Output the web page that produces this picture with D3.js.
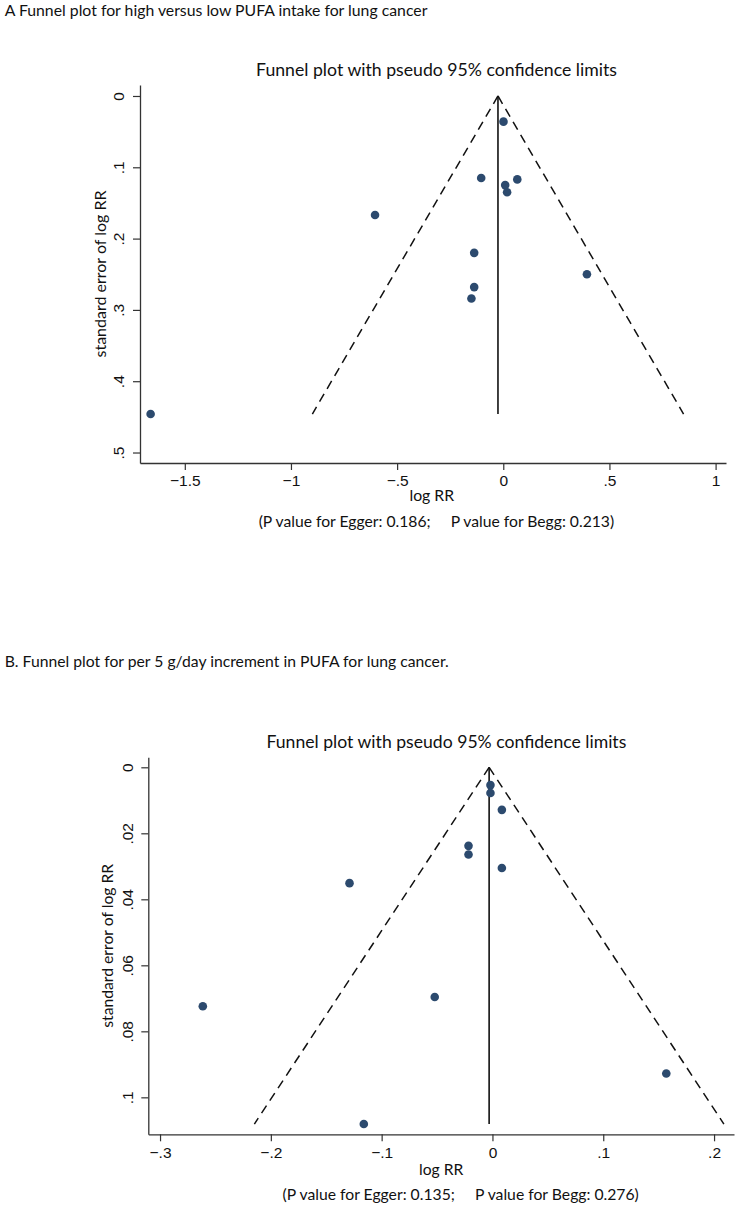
<!DOCTYPE html>
<html>
<head>
<meta charset="utf-8">
<script src="https://cdn.jsdelivr.net/npm/d3@7"></script>
<style>
  html, body { margin: 0; padding: 0; background: #fff; }
  svg { display: block; font-family: Lato, "Liberation Sans", Arial, sans-serif; }
  text { white-space: pre; }
</style>
</head>
<body>
<svg id="chart" width="737" height="1208"></svg>
<script>
// ---------- DATA ----------
const headerA = "A Funnel plot for high versus low PUFA intake for lung cancer";
const headerB = "B. Funnel plot for per 5 g/day increment in PUFA for lung cancer.";
const plotTitle = "Funnel plot with pseudo 95% confidence limits";
const xLabel = "log RR";
const yLabel = "standard error of log RR";
const noteA = "(P value for Egger: 0.186;     P value for Begg: 0.213)";
const noteB = "(P value for Egger: 0.135;     P value for Begg: 0.276)";

// Panel A: high versus low PUFA intake
const logRR_A = [0.001, -0.104, 0.066, 0.009, 0.018, -0.137, 0.394, -0.137, -0.150, -0.604, -1.661];
const se_A    = [0.036, 0.115, 0.117, 0.125, 0.135, 0.220, 0.250, 0.268, 0.284, 0.167, 0.446];
const pooled_A = -0.025;
const xTicks_A = [-1.5, -1, -0.5, 0, 0.5, 1];
const yTicks_A = [0, 0.1, 0.2, 0.3, 0.4, 0.5];

// Panel B: per 5 g/day increment
const logRR_B = [-0.0018, -0.0018, 0.0085, -0.0216, -0.0216, 0.0085, -0.129, -0.0521, -0.2614, 0.1569, -0.1161];
const se_B    = [0.0054, 0.0078, 0.0129, 0.0238, 0.0264, 0.0305, 0.0351, 0.0696, 0.0724, 0.0928, 0.1081];
const pooled_B = -0.003;
const xTicks_B = [-0.3, -0.2, -0.1, 0, 0.1, 0.2];
const yTicks_B = [0, 0.02, 0.04, 0.06, 0.08, 0.1];

// ---------- DRAW ----------
const svg = d3.select("#chart");
const dotColor = "#2c4a6e";
const textColor = "#111";

function fmt(v) {
  if (Math.abs(v) < 1e-12) return "0";
  const s = String(+Math.abs(v).toFixed(4)).replace(/^0\./, ".");
  return (v < 0 ? "\u2212" : "") + s;
}

function fitWidth(sel, target) {
  const w = sel.node().getComputedTextLength();
  const fs = parseFloat(sel.attr("font-size"));
  sel.attr("font-size", (fs * target / w).toFixed(2));
}

function panel(cfg) {
  const g = svg.append("g");
  const x = d3.scaleLinear().domain(cfg.xDomain).range(cfg.xRange);
  const y = d3.scaleLinear().domain(cfg.yDomain).range(cfg.yRange);

  // header
  const h = g.append("text").attr("x", 4.7).attr("y", cfg.headerY)
    .attr("font-size", 15).attr("fill", textColor).text(cfg.header);
  fitWidth(h, cfg.headerW);

  // plot title
  const t = g.append("text").attr("x", cfg.titleX).attr("y", cfg.titleY)
    .attr("text-anchor", "middle").attr("font-size", 17).attr("fill", textColor).text(plotTitle);
  fitWidth(t, cfg.titleW);

  // x axis
  const xa = g.append("g").attr("transform", `translate(0,${cfg.yRange[1]})`)
    .call(d3.axisBottom(x).tickValues(cfg.xTicks).tickFormat(fmt).tickSize(7).tickSizeOuter(0).tickPadding(4));
  xa.select(".domain").attr("stroke", "#333").attr("stroke-width", 1.3);
  xa.selectAll(".tick line").attr("stroke", "#333").attr("stroke-width", 1.2);
  xa.selectAll(".tick text").attr("font-size", 15.5).attr("fill", textColor)
    .attr("font-family", null)
    .attr("dy", null).attr("y", cfg.xTickBase - cfg.yRange[1]);

  // y axis
  const ya = g.append("g").attr("transform", `translate(${cfg.xRange[0]},0)`)
    .call(d3.axisLeft(y).tickValues(cfg.yTicks).tickFormat(fmt).tickSize(7).tickSizeOuter(0));
  ya.select(".domain").attr("stroke", "#333").attr("stroke-width", 1.3);
  ya.selectAll(".tick line").attr("stroke", "#333").attr("stroke-width", 1.2);
  ya.selectAll(".tick text").attr("font-size", 15.5).attr("fill", textColor)
    .attr("font-family", null)
    .attr("transform", "rotate(-90)").attr("x", 0).attr("y", -15.6).attr("dy", null)
    .attr("text-anchor", "middle");

  // axis titles
  const xl = g.append("text").attr("x", cfg.xLabelX).attr("y", cfg.xLabelY)
    .attr("text-anchor", "middle").attr("font-size", 15).attr("fill", textColor).text(xLabel);
  fitWidth(xl, cfg.xLabelW);

  const yMid = (cfg.yRange[0] + cfg.yRange[1]) / 2;
  const yl = g.append("text").attr("transform", `translate(${cfg.yLabelX},${yMid}) rotate(-90)`)
    .attr("text-anchor", "middle").attr("font-size", 15.5).attr("fill", textColor).text(yLabel);
  fitWidth(yl, cfg.yLabelW);

  // note
  const n = g.append("text").attr("x", cfg.noteX).attr("y", cfg.noteY)
    .attr("text-anchor", "middle").attr("font-size", 15).attr("fill", textColor).text(cfg.note);
  fitWidth(n, cfg.noteW);

  // funnel (pseudo 95% CI limits)
  const seMax = d3.max(cfg.se);
  const line = d3.line().x(d => x(d[0])).y(d => y(d[1]));
  [-1, 1].forEach(s => {
    g.append("path")
      .attr("d", line([[cfg.pooled, 0], [cfg.pooled + s * 1.96 * seMax, seMax]]))
      .attr("fill", "none").attr("stroke", "#111").attr("stroke-width", 1.5)
      .attr("stroke-dasharray", "9,6");
  });
  // pooled estimate line
  g.append("path")
    .attr("d", line([[cfg.pooled, seMax], [cfg.pooled, 0]]))
    .attr("fill", "none").attr("stroke", "#111").attr("stroke-width", 1.6);

  // points
  g.selectAll("circle.pt").data(cfg.logRR.map((v, i) => [v, cfg.se[i]]))
    .join("circle").attr("class", "pt")
    .attr("cx", d => x(d[0])).attr("cy", d => y(d[1])).attr("r", 4.3)
    .attr("fill", dotColor);
}

panel({
  header: headerA, headerY: 16, headerW: 423,
  titleX: 436.5, titleY: 76, titleW: 361,
  xDomain: [-1.711, 1.049], xRange: [140, 726],
  yDomain: [-0.0154, 0.5147], yRange: [85, 463],
  xTicks: xTicks_A, yTicks: yTicks_A, xTickBase: 486,
  xLabelX: 431.8, xLabelY: 501, xLabelW: 44.7,
  yLabelX: 106.3, yLabelW: 167,
  note: noteA, noteX: 436.4, noteY: 527, noteW: 355.6,
  logRR: logRR_A, se: se_A, pooled: pooled_A
});

panel({
  header: headerB, headerY: 667, headerW: 444,
  titleX: 446.4, titleY: 748, titleW: 360,
  xDomain: [-0.3106, 0.218], xRange: [148.3, 734],
  yDomain: [-0.00303, 0.1112], yRange: [757.3, 1134.3],
  xTicks: xTicks_B, yTicks: yTicks_B, xTickBase: 1158,
  xLabelX: 441.2, xLabelY: 1175, xLabelW: 44.3,
  yLabelX: 113, yLabelW: 164,
  note: noteB, noteX: 460.7, noteY: 1200, noteW: 356.4,
  logRR: logRR_B, se: se_B, pooled: pooled_B
});
</script>
</body>
</html>
